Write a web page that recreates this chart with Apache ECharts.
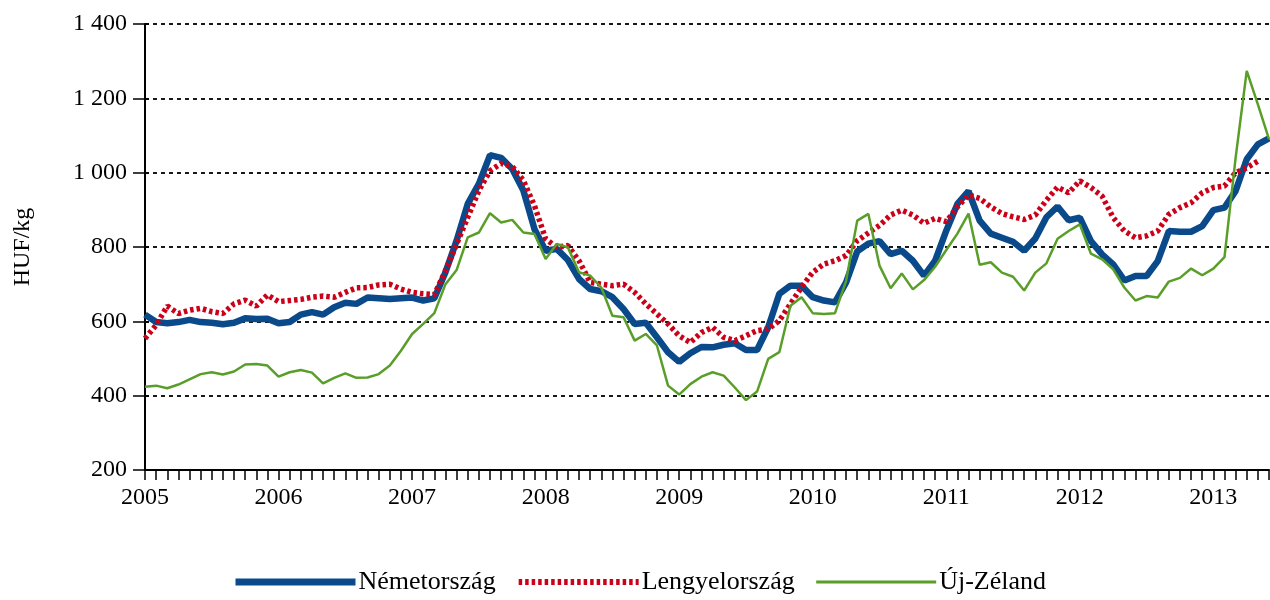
<!DOCTYPE html>
<html>
<head>
<meta charset="utf-8">
<script src="https://cdn.jsdelivr.net/npm/echarts@6/dist/echarts.min.js"></script>
<style>
  html, body { margin: 0; padding: 0; background: #fff; }
  #chart { width: 1270px; height: 600px; }
</style>
</head>
<body>
<div id="chart"></div>
<script>
// monthly prices, Jan 2005 .. Jun 2013
const years = ['2005', '2006', '2007', '2008', '2009', '2010', '2011', '2012', '2013'];
const monthsInLastYear = 6;

const nemetorszag = [
  618, 598, 595, 598, 604, 598, 596, 592, 596, 608, 606, 607,
  595, 598, 618, 625, 618, 638, 650, 647, 664, 662, 660, 662,
  664, 656, 662, 732, 817, 916, 970, 1047, 1040, 1010, 952, 848,
  790, 795, 765, 714, 687, 681, 665, 633, 593, 596, 557, 517,
  491, 514, 531, 530, 537, 541, 523, 523, 584, 674, 696, 696,
  665, 656, 651, 705, 788, 809, 816, 781, 790, 763, 723, 763,
  844, 916, 950, 871, 836, 825, 814, 790, 823, 880, 909, 872,
  879, 816, 780, 753, 710, 722, 722, 762, 843, 841, 841, 856,
  899, 906, 951, 1036, 1076, 1092
];

const lengyelorszag = [
  554, 590, 641, 621, 630, 635, 626, 621, 647, 657, 641, 671,
  653, 656, 659, 665, 668, 665, 678, 690, 691, 698, 700, 687,
  678, 674, 672, 736, 808, 880, 952, 1005, 1025, 1017, 979, 911,
  822, 799, 804, 763, 705, 700, 696, 700, 678, 647, 620, 593,
  561, 543, 570, 584, 557, 548, 561, 575, 579, 602, 647, 692,
  732, 754, 763, 777, 817, 838, 858, 886, 899, 886, 864, 877,
  868, 908, 940, 931, 908, 890, 881, 874, 886, 926, 961, 946,
  978, 960, 937, 879, 843, 825, 830, 843, 888, 906, 919, 946,
  960, 964, 1000, 1013, 1031, null
];

const ujZeland = [
  424, 427, 420, 430, 444, 458, 463, 457, 465, 484, 485, 481,
  451, 463, 469, 462, 433, 448, 460, 448, 449, 458, 481, 521,
  566, 593, 622, 700, 738, 826, 839, 891, 866, 873, 839, 835,
  768, 808, 799, 732, 723, 691, 615, 611, 548, 566, 535, 427,
  403, 431, 451, 463, 454, 422, 388, 411, 499, 517, 642, 665,
  622, 620, 622, 709, 871, 889, 750, 689, 729, 686, 711, 747,
  792, 836, 890, 752, 759, 731, 720, 683, 731, 756, 822, 843,
  861, 782, 767, 740, 691, 656, 668, 664, 707, 717, 742, 724,
  742, 773, 1040, 1274, 1184, 1090
];

const months = [];
years.forEach((y, yi) => {
  const n = yi === years.length - 1 ? monthsInLastYear : 12;
  for (let m = 1; m <= n; m++) months.push(y + '-' + (m < 10 ? '0' + m : m));
});

const font = "'Liberation Serif', 'Times New Roman', serif";
const blue = '#0a4a8a', red = '#cc0018', green = '#5a9e2a';

const yLabel = function (v) {
  if (v >= 1000) {
    const r = String(v % 1000);
    return Math.floor(v / 1000) + ' ' + '000'.slice(r.length) + r;
  }
  return String(v);
};

const chart = echarts.init(document.getElementById('chart'));
chart.setOption({
  animation: false,
  backgroundColor: '#fff',
  textStyle: { fontFamily: font, color: '#000' },
  grid: { left: 145, right: 1, top: 24, bottom: 130 },
  legend: {
    bottom: 0,
    left: 227,
    itemWidth: 120,
    itemHeight: 14,
    itemGap: 20,
    itemStyle: { opacity: 0 },
    textStyle: { fontFamily: font, fontSize: 26, color: '#000', padding: [0, 0, 0, -2] },
    data: [
      { name: 'Németország', lineStyle: { color: blue, width: 7 } },
      { name: 'Lengyelország', lineStyle: { color: red, width: 6, type: [3.5, 3] } },
      { name: 'Új-Zéland', lineStyle: { color: green, width: 3 } }
    ]
  },
  xAxis: {
    type: 'category',
    boundaryGap: false,
    data: months,
    axisLine: { lineStyle: { color: '#000', width: 2 } },
    axisTick: { show: true, interval: 0, length: 10, lineStyle: { color: '#000', width: 1.5 } },
    axisLabel: {
      interval: function (i) { return i % 12 === 0; },
      formatter: function (v) { return v.slice(0, 4); },
      fontFamily: font,
      fontSize: 24,
      color: '#000',
      margin: 16
    },
    splitLine: { show: false }
  },
  yAxis: [
    {
      type: 'value',
      min: 200,
      max: 1400,
      interval: 200,
      name: 'HUF/kg',
      nameLocation: 'middle',
      nameGap: 110,
      nameTextStyle: { fontFamily: font, fontSize: 24, color: '#000' },
      axisLine: { show: true, lineStyle: { color: '#000', width: 2 } },
      axisTick: { show: true, length: 12, lineStyle: { color: '#000', width: 1.5 } },
      axisLabel: { fontFamily: font, fontSize: 24, color: '#000', margin: 18, formatter: yLabel },
      splitLine: { show: true, lineStyle: { color: '#000', width: 1.8, type: [4, 4] } }
    },
    {
      // short inner tick marks on the same axis line
      type: 'value',
      position: 'left',
      min: 200,
      max: 1400,
      interval: 200,
      axisLine: { show: false },
      axisTick: { show: true, inside: true, length: 4, lineStyle: { color: '#000', width: 1.5 } },
      axisLabel: { show: false },
      splitLine: { show: false }
    }
  ],
  series: [
    {
      name: 'Németország',
      type: 'line',
      data: nemetorszag,
      symbol: 'none',
      color: blue,
      lineStyle: { color: blue, width: 6.5 }
    },
    {
      name: 'Lengyelország',
      type: 'line',
      data: lengyelorszag,
      symbol: 'none',
      color: red,
      lineStyle: { color: red, width: 5.5, type: [3.5, 3] }
    },
    {
      name: 'Új-Zéland',
      type: 'line',
      data: ujZeland,
      symbol: 'none',
      color: green,
      lineStyle: { color: green, width: 2.5 }
    }
  ]
});
</script>
</body>
</html>
